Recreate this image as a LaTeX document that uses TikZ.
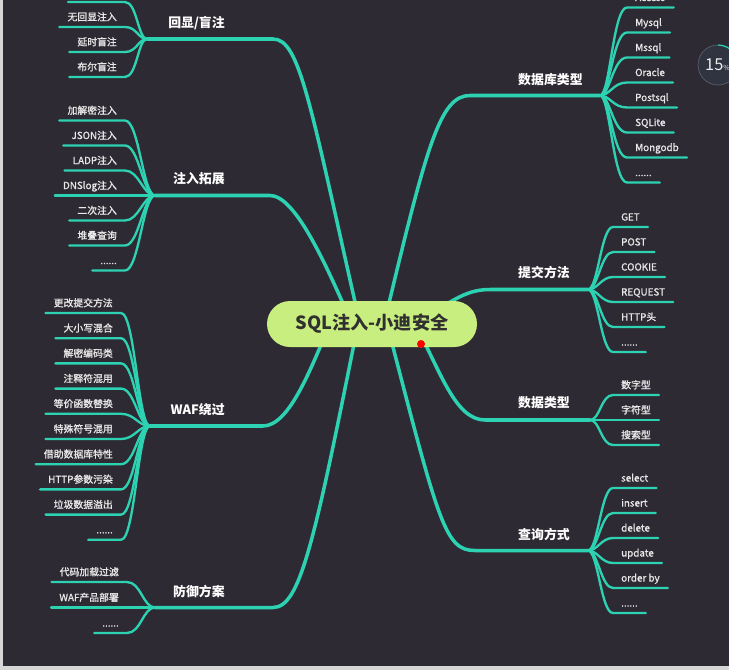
\documentclass[tikz,border=0pt]{standalone}
\usepackage{fontspec}
\setmainfont{Noto Sans CJK SC}
\newfontfamily\leaffont{Noto Sans CJK SC}[FakeBold=1.2]
\usetikzlibrary{calc}
\definecolor{bgdark}{RGB}{46,42,51}
\definecolor{framegray}{RGB}{214,214,214}
\definecolor{tealline}{RGB}{44,210,178}
\definecolor{rootgreen}{RGB}{201,238,128}
\definecolor{rootink}{RGB}{48,48,48}
\definecolor{leafink}{RGB}{232,232,232}
\definecolor{dialblue}{RGB}{48,52,64}
\definecolor{dialring}{RGB}{90,94,104}
\newcommand\moredots{......}

\begin{document}
\begin{tikzpicture}[x=0.03cm,y=-0.03cm,
 bough/.style={draw=tealline,line width=3pt,line cap=round},
 twig/.style={draw=tealline,line width=2pt,line cap=round},
 root/.style={fill=rootgreen,text=rootink,minimum width=6.3cm,minimum height=1.38cm,
   rounded corners=0.69cm,font=\bfseries\fontsize{15.5}{17}\selectfont},
 topic/.style={text=white,inner sep=0pt,font=\bfseries\fontsize{11}{13}\selectfont},
 leaf/.style={text=leafink,font=\leaffont\fontsize{8.4}{10}\selectfont,inner xsep=3.5pt,outer xsep=3.5pt,
   inner ysep=3.5pt,outer ysep=0pt,text height=7pt,text depth=2pt},
 leafr/.style={leaf,anchor=south west},
 leafl/.style={leaf,anchor=south east}]
 \useasboundingbox (0,0) rectangle (729,670);
 \fill[framegray] (0,0) rectangle (729,670);
 \fill[bgdark] (3,0) rectangle (729,666);
 \begin{scope}
 \clip (3,0) rectangle (729,666);

 \coordinate (core) at (372,324);
 \coordinate (echoh) at (147,39);
 \coordinate (exth) at (155,195.5);
 \coordinate (wafh) at (150,426);
 \coordinate (defh) at (155,607.5);
 \coordinate (dbh) at (600,95.5);
 \coordinate (subh) at (588,289.5);
 \coordinate (typeh) at (590,420);
 \coordinate (qryh) at (588,550.5);

 % main branches
 \draw[bough] ($(core)+(-12,0)$) .. controls (310,104) and (300,39) .. (273,39) -- (echoh);
 \draw[bough] ($(core)+(-20,0)$) .. controls (325,262) and (295,195.5) .. (270,195.5) -- (exth);
 \draw[bough] ($(core)+(-42,0)$) .. controls (312,365) and (290,426) .. (263,426) -- (wafh);
 \draw[bough] ($(core)+(-14,0)$) .. controls (314,544) and (300,607.5) .. (273,607.5) -- (defh);
 \draw[bough] ($(core)+(12,0)$) .. controls (427,144) and (440,95.5) .. (470,95.5) -- (dbh);
 \draw[bough] ($(core)+(48,-6)$) .. controls (450,305) and (462,289.5) .. (490,289.5) -- (subh);
 \draw[bough] ($(core)+(43,0)$) .. controls (440,370) and (455,420) .. (485,420) -- (typeh);
 \draw[bough] ($(core)+(15,0)$) .. controls (439,524) and (445,550.5) .. (475,550.5) -- (qryh);

 \node[topic,anchor=east] (echo) at (225,23) {回显/盲注};
 \node[topic,anchor=east] (ext) at (225,179) {注入拓展};
 \node[topic,anchor=east] (waf) at (225,410) {WAF绕过};
 \node[topic,anchor=east] (def) at (225,592) {防御方案};
 \node[topic,anchor=west] (db) at (518,80) {数据库类型};
 \node[topic,anchor=west] (sub) at (518,273) {提交方法};
 \node[topic,anchor=west] (type) at (518,403) {数据类型};
 \node[topic,anchor=west] (qry) at (518,535) {查询方式};

 % right leaves
 \foreach \t [count=\i] in {Access,Mysql,Mssql,Oracle,Postsql,SQLite,Mongodb,\moredots}
   {\node[leafr] (db\i) at (627,7.5+25*\i-25) {\t};
    \draw[twig] (dbh) .. controls +(10,0) and +(-14,0) .. (db\i.south west) -- (db\i.south east);}
 \foreach \t [count=\i] in {GET,POST,COOKIE,REQUEST,HTTP头,\moredots}
   {\node[leafr] (sub\i) at (613,227+25*\i-25) {\t};
    \draw[twig] (subh) .. controls +(10,0) and +(-12,0) .. (sub\i.south west) -- (sub\i.south east);}
 \foreach \t [count=\i] in {数字型,字符型,搜索型}
   {\node[leafr] (type\i) at (613,395+25*\i-25) {\t};
    \draw[twig] (typeh) .. controls +(10,0) and +(-12,0) .. (type\i.south west) -- (type\i.south east);}
 \foreach \t [count=\i] in {select,insert,delete,update,order by,\moredots}
   {\node[leafr] (qry\i) at (613,488+25*\i-25) {\t};
    \draw[twig] (qryh) .. controls +(10,0) and +(-12,0) .. (qry\i.south west) -- (qry\i.south east);}

 % left leaves
 \coordinate (echo0a) at (125,2);
 \coordinate (echo0b) at (68,2);
 \draw[twig] (echoh) .. controls +(-9,0) and +(12,0) .. (echo0a) -- (echo0b);
 \foreach \t [count=\i] in {无回显注入,延时盲注,布尔盲注}
   {\node[leafl] (echo\i) at (125,2+25*\i) {\t};
    \draw[twig] (echoh) .. controls +(-9,0) and +(12,0) .. (echo\i.south east) -- (echo\i.south west);}
 \foreach \t [count=\i] in {加解密注入,JSON注入,LADP注入,DNSlog注入,二次注入,堆叠查询,\moredots}
   {\node[leafl] (ext\i) at (125,120.5+25*\i-25) {\t};
    \draw[twig] (exth) .. controls +(-12,0) and +(14,0) .. (ext\i.south east) -- (ext\i.south west);}
 \foreach \t [count=\i] in {更改提交方法,大小写混合,解密编码类,注释符混用,等价函数替换,特殊符号混用,借助数据库特性,HTTP参数污染,垃圾数据溢出,\moredots}
   {\node[leafl] (waf\i) at (121,313+25.2*\i-25.2) {\t};
    \draw[twig] (wafh) .. controls +(-12,0) and +(14,0) .. (waf\i.south east) -- (waf\i.south west);}
 \foreach \t [count=\i] in {代码加载过滤,WAF产品部署,\moredots}
   {\node[leafl] (def\i) at (127,582+25.5*\i-25.5) {\t};
    \draw[twig] (defh) .. controls +(-12,0) and +(14,0) .. (def\i.south east) -- (def\i.south west);}

 \node[root] (root) at (core) {SQL注入-小迪安全};
 \fill[red] (421,344) circle (4);

 % zoom dial
 \fill[dialblue] (718,65) circle (20);
 \draw[dialring,line width=0.6pt] (718,65) circle (20);
 \draw[tealline,line width=1pt] (718,65) ++(-90:20) arc[start angle=-90,end angle=-35,radius=20];
 \node[text=leafink!80,font=\fontsize{14}{16}\selectfont,anchor=west,inner sep=0pt] (dial) at (705,65)
   {15{\fontsize{6}{7}\selectfont\%}};
 \end{scope}
\end{tikzpicture}
\end{document}
